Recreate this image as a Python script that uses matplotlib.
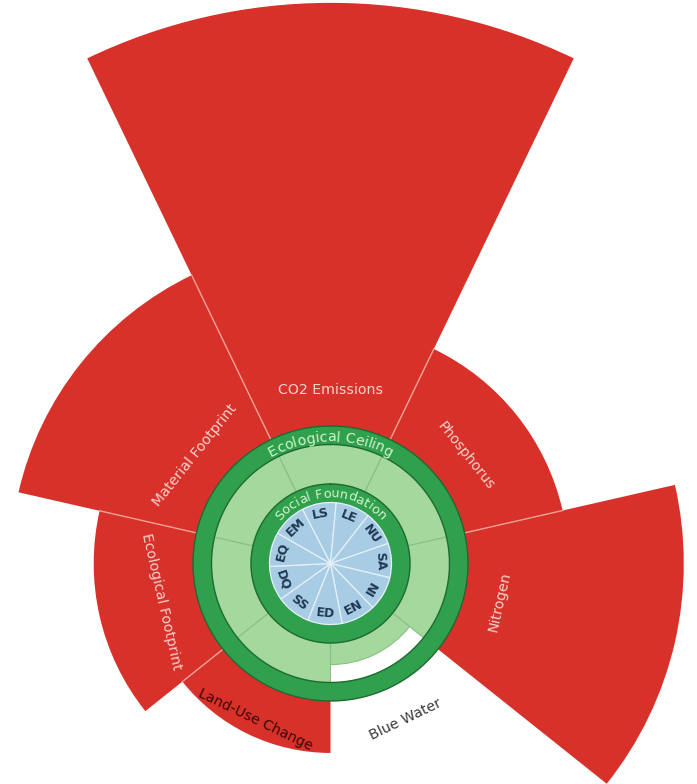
import numpy as np
import matplotlib

matplotlib.use("Agg")
import matplotlib.pyplot as plt
from matplotlib.font_manager import FontProperties

# --- data -------------------------------------------------------------------
# ecological ceiling indicators, clockwise from the top; values are ratios to the ceiling
eco_labels = ["CO2 Emissions", "Phosphorus", "Nitrogen", "Blue Water",
              "Land-Use Change", "Ecological Footprint", "Material Footprint"]
eco_values = [4.38, 1.86, 2.76, 0.79, 1.48, 1.85, 2.50]
eco_label_colors = ["#F9D2CB", "#F9D2CB", "#F9D2CB", "#3A3A3A",
                    "#3A0806", "#F9D2CB", "#F9D2CB"]

# social foundation indicators, clockwise from the top
soc_labels = ["LS", "LE", "NU", "SA", "IN", "EN", "ED", "SS", "DQ", "EQ", "EM"]

# --- geometry / style ---------------------------------------------------------
W, H = 697, 784
CX, CY = 330.5, H - 563.5      # centre of the doughnut, pixels from bottom-left
S = 600                        # half size of the polar axes box, pixels
PX = 128.0                     # pixels per unit of the radial scale

R_BLUE = 61 / PX
R_SOC = 79.5 / PX
R_IN = 119 / PX
R_OUT = 137.5 / PX

RED = "#D7312A"
DKGREEN = "#30A04D"
LTGREEN = "#A4D89C"
BLUE = "#A8CCE3"
OUTLINE = "#1D6A33"

fig = plt.figure(figsize=(W / 100, H / 100), dpi=100)
ax = fig.add_axes([(CX - S) / W, (CY - S) / H, 2 * S / W, 2 * S / H], projection="polar")
ax.set_theta_zero_location("N")
ax.set_theta_direction(-1)
ax.set_ylim(0, S / PX)
ax.set_axis_off()

n_eco = len(eco_labels)
eco_w = 2 * np.pi / n_eco
eco_theta = np.arange(n_eco) * eco_w
vals = np.array(eco_values)

# red overshoot wedges
over = vals > 1
ax.bar(eco_theta[over], vals[over] - 1, width=eco_w, bottom=1, color=RED, lw=0, zorder=1)

# thin pink separators between neighbouring overshoot wedges
for k in range(n_eco):
    r_end = min(vals[k - 1], vals[k])
    if r_end > R_OUT:
        t = (k - 0.5) * eco_w
        ax.plot([t, t], [R_OUT, r_end], color="#F3A296", lw=1.0, zorder=2)

# light green safe space, capped at the ceiling
fill = np.minimum(vals, 1.0)
ax.bar(eco_theta, fill - R_SOC, width=eco_w, bottom=R_SOC, color=LTGREEN,
       edgecolor="#86C27F", lw=0.8, zorder=3)

th = np.linspace(0, 2 * np.pi, 721)

# ecological ceiling ring
ax.bar(0, R_OUT - R_IN, width=2 * np.pi, bottom=R_IN, color=DKGREEN, lw=0, zorder=4)
ax.plot(th, np.full_like(th, R_IN), color=OUTLINE, lw=1.0, zorder=5)
ax.plot(th, np.full_like(th, R_OUT), color=OUTLINE, lw=1.0, zorder=5)

# social foundation ring
ax.bar(0, R_SOC - R_BLUE, width=2 * np.pi, bottom=R_BLUE, color=DKGREEN, lw=0, zorder=4)
ax.plot(th, np.full_like(th, R_SOC), color=OUTLINE, lw=1.0, zorder=5)

# blue social core
n_soc = len(soc_labels)
soc_w = 2 * np.pi / n_soc
soc_theta = np.radians(-11) + np.arange(n_soc) * soc_w
ax.bar(soc_theta, R_BLUE, width=soc_w, color=BLUE, edgecolor="#E4F0F8", lw=0.9, zorder=6)


def flip_rotation(phi):
    """Rotation for text tangent to the circle at math angle phi (deg)."""
    phi = (phi + 180) % 360 - 180
    return phi - 90 if phi >= 0 else phi + 90


# sector labels
for t, lab, col in zip(eco_theta, eco_labels, eco_label_colors):
    phi = 90 - np.degrees(t)
    ax.text(t, 173 / PX, lab, rotation=flip_rotation(phi), rotation_mode="anchor",
            ha="center", va="center", fontsize=10.2, color=col,
            family="DejaVu Sans", zorder=8)

# social codes
for t, lab in zip(soc_theta, soc_labels):
    phi = 90 - np.degrees(t)
    ax.text(t, 50 / PX, lab, rotation=flip_rotation(phi), rotation_mode="anchor",
            ha="center", va="center", fontsize=9, fontweight="bold",
            color="#1E3854", family="DejaVu Sans", zorder=8)

renderer = fig.canvas.get_renderer()


def curved_text(text, r_px, phi_c, size, color, weight="normal"):
    prop = FontProperties(family="DejaVu Sans", size=size, weight=weight)
    bar_w = renderer.get_text_width_height_descent("|", prop, ismath=False)[0]

    def adv(s):
        return renderer.get_text_width_height_descent(s + "|", prop, ismath=False)[0] - bar_w

    total = adv(text)
    for i, ch in enumerate(text):
        if ch == " ":
            continue
        c = (adv(text[:i]) + adv(text[:i + 1])) / 2
        phi = phi_c - np.degrees((c - total / 2) / r_px)
        ax.text(np.radians(90 - phi), r_px / PX, ch, rotation=phi - 90,
                rotation_mode="anchor", ha="center", va="baseline",
                fontproperties=prop, color=color, zorder=9)


curved_text("Ecological Ceiling", 122, 90, 10.2, "#D2F4CC")
curved_text("Social Foundation", 66, 90, 9.4, "#D2F4CC")

fig.savefig("out.png", dpi=100)
